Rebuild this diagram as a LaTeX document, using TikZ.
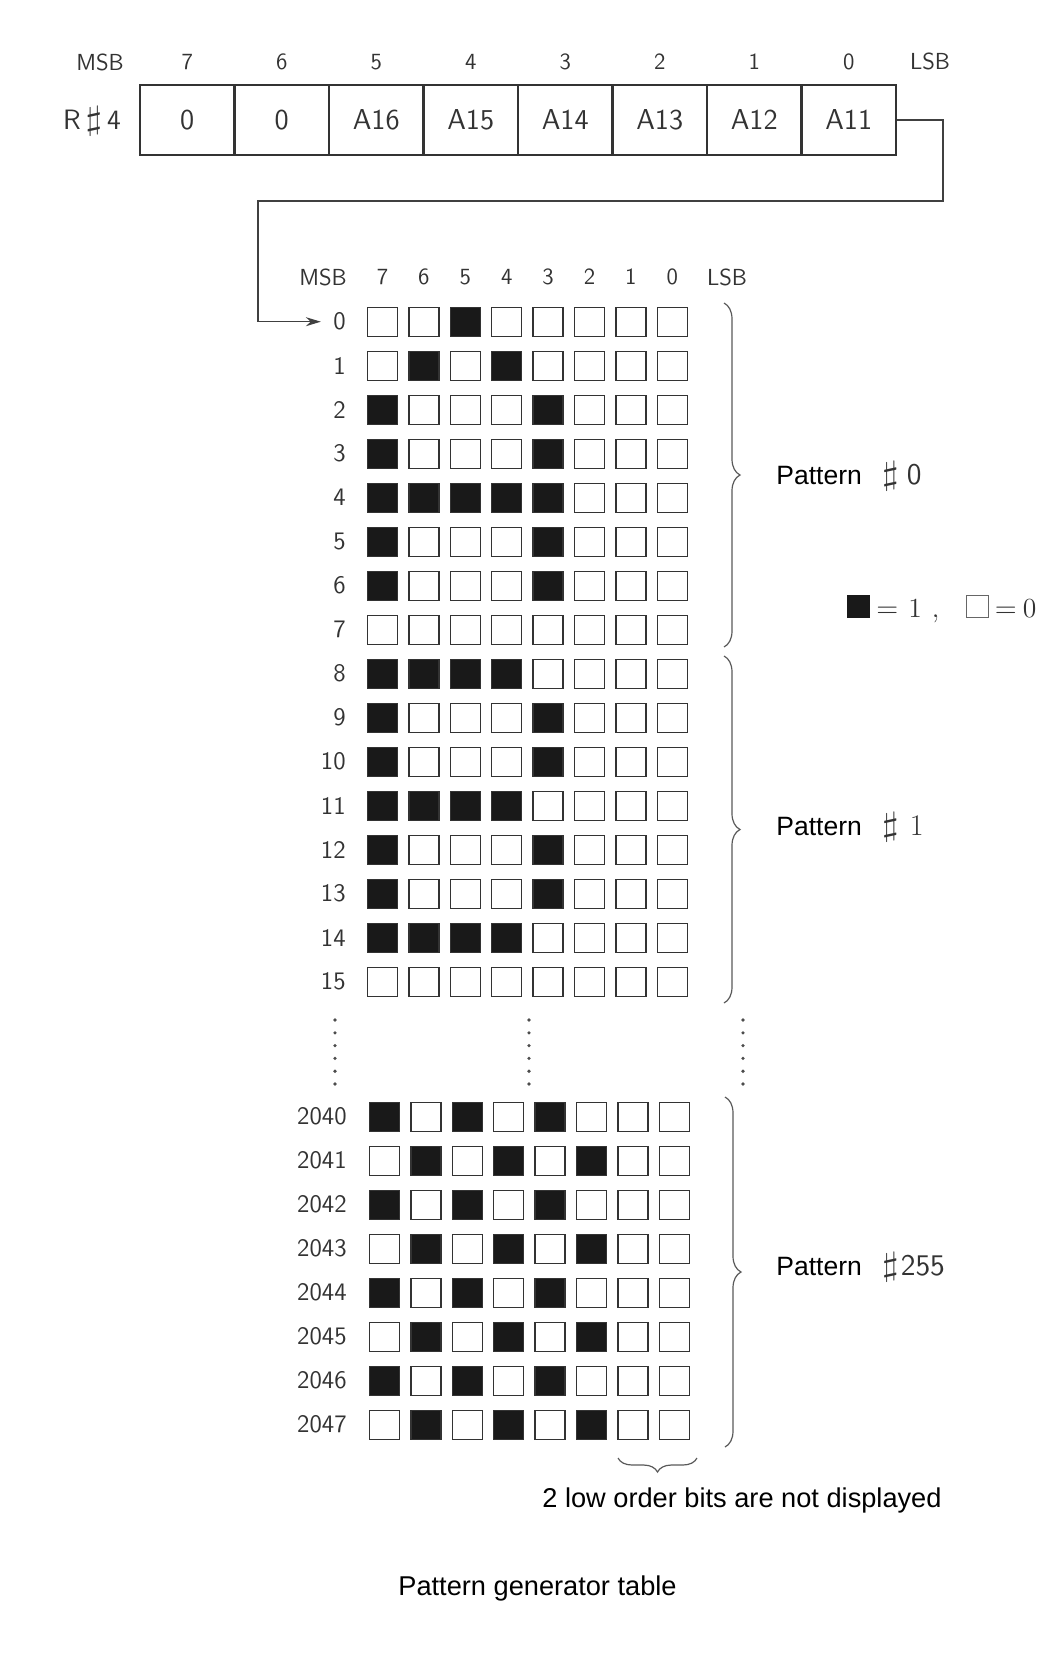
\documentclass[tikz,border=0pt]{standalone}
\usepackage{fontspec}
\newfontfamily\arialfont{Liberation Sans}
\usepackage{tikz}
\usetikzlibrary{arrows.meta,decorations.pathreplacing,positioning}
\newcommand{\shp}{\scalebox{1.55}[1.15]{$\sharp$}}

\tikzset{
  bit0/.style = {draw = black!80, line width = 0.65pt, fill = white, minimum width = 15pt, minimum height = 14.5pt, inner sep = 0pt},
  bit1/.style = {bit0, fill = black!90},
  key0/.style = {draw = black!60, line width = 0.5pt, fill = white, minimum width = 11pt, minimum height = 11pt, inner sep = 0pt},
  key1/.style = {key0, draw = black!90, fill = black!90},
  regcell/.style = {draw = black!80, line width = 1.3pt, minimum width = 47.25pt, minimum height = 35pt, inner sep = 0pt, text = black!80, font = \sffamily\fontsize{14.4}{16}\selectfont},
  reglab/.style = {inner sep = 0pt, text = black!80, font = \sffamily\fontsize{11.6}{13}\selectfont},
  rowlab/.style = {inner sep = 0pt, anchor = east, text = black!80, font = \sffamily\fontsize{12.6}{14}\selectfont},
  keytxt/.style = {inner sep = 0pt, text = black!80, font = \fontsize{13.8}{16}\selectfont},
  arial/.style = {inner sep = 0pt, font = \arialfont\fontsize{13.25}{15}\selectfont},
  note/.style = {arial, font = \arialfont\fontsize{13.6}{15}\selectfont},
  conn/.style = {draw = black!75, line width = 0.65pt},
  pbrace/.style = {decorate, decoration = {brace, amplitude = 8pt}, draw = black!65, line width = 0.6pt}
}

\begin{document}
\begin{tikzpicture}[x = 0.5pt, y = -0.5pt]
	\useasboundingbox (0,0) rectangle (1059,1654);

	\node[reglab] (rmsb) at (100,62) {MSB};
	\node[reglab] (rlsb) at (930,61) {LSB};
	\node[regcell, draw = none, font = \sffamily\fontsize{14}{16}\selectfont] (rname) at (92,121) {R\,\shp\,4};
	\foreach \n/\lab [count = \i from 0] in {7/0, 6/0, 5/A16, 4/A15, 3/A14, 2/A13, 1/A12, 0/A11}
	{
		\node[regcell] (r\n) at ({187.25+94.5*\i},120) {\lab};
		\node[reglab] (rh\n) at ({187.25+94.5*\i},62) {\n};
	}

	\node[reglab] (gmsb) at (323,277) {MSB};
	\node[reglab] (glsb) at (727,277) {LSB};
	\foreach \n [count = \i from 0] in {7,6,5,4,3,2,1,0}
		\node[reglab] (gh\n) at ({382.5+41.4*\i},277) {\n};

	\foreach \lab/\bits [count = \k from 0] in {0/{0,0,1,0,0,0,0,0}, 1/{0,1,0,1,0,0,0,0},
		2/{1,0,0,0,1,0,0,0}, 3/{1,0,0,0,1,0,0,0}, 4/{1,1,1,1,1,0,0,0}, 5/{1,0,0,0,1,0,0,0},
		6/{1,0,0,0,1,0,0,0}, 7/{0,0,0,0,0,0,0,0}, 8/{1,1,1,1,0,0,0,0}, 9/{1,0,0,0,1,0,0,0},
		10/{1,0,0,0,1,0,0,0}, 11/{1,1,1,1,0,0,0,0}, 12/{1,0,0,0,1,0,0,0}, 13/{1,0,0,0,1,0,0,0},
		14/{1,1,1,1,0,0,0,0}, 15/{0,0,0,0,0,0,0,0}}
	{
		\node[rowlab] (l\lab) at (346,{321.7+44*\k}) {\lab};
		\foreach \b [count = \j from 0] in \bits
			\node[bit\b] (c\lab-\j) at ({382.5+41.4*\j},{321.7+44*\k}) {};
	}

	\foreach \lab/\bits [count = \k from 0] in {2040/{1,0,1,0,1,0,0,0}, 2041/{0,1,0,1,0,1,0,0},
		2042/{1,0,1,0,1,0,0,0}, 2043/{0,1,0,1,0,1,0,0}, 2044/{1,0,1,0,1,0,0,0},
		2045/{0,1,0,1,0,1,0,0}, 2046/{1,0,1,0,1,0,0,0}, 2047/{0,1,0,1,0,1,0,0}}
	{
		\node[rowlab] (l\lab) at (347,{1116.7+44*\k}) {\lab};
		\foreach \b [count = \j from 0] in \bits
			\node[bit\b] (c\lab-\j) at ({384.5+41.4*\j},{1116.7+44*\k}) {};
	}

	\foreach \dx in {335,529,743}
		\foreach \i in {0,...,5}
			\fill[black!70] (\dx,{1020+12.8*\i}) circle (0.9pt);

	\coordinate (turnA) at (943,201);
	\coordinate (turnB) at (258,201);
	\draw[conn, -{Stealth[length = 7.5pt, width = 4.5pt]}, shorten > = 6pt] (r0.east) -| (turnA) -- (turnB) |- (l0.west);

	\draw[pbrace] (724,303) -- (724,647);
	\draw[pbrace] (724,656) -- (724,1003);
	\draw[pbrace] (725,1097) -- (725,1447);
	\draw[pbrace, decoration = {amplitude = 7pt}] (697,1458) -- (618,1458);

	\node[arial, anchor = base west] (p0) at (776,484) {Pattern\hspace{10pt}{\sffamily\fontsize{15}{17}\selectfont\color{black!80}\shp\hspace{4pt}0}};
	\node[arial, anchor = base west] (p1) at (776,835) {Pattern\hspace{10pt}{\rmfamily\fontsize{15}{17}\selectfont\color{black!80}\shp\hspace{5.5pt}1}};
	\node[arial, anchor = base west] (p255) at (776,1275) {Pattern\hspace{10pt}{\sffamily\fontsize{15}{17}\selectfont\color{black!80}\shp\hspace{1pt}255}};

	\node[key1] (k1) at (858.5,606) {};
	\node[keytxt, anchor = base west] (k1t) at ([xshift = 3pt]k1.south east) {$=$\hspace{5pt}1\hspace{5pt},};
	\node[key0] (k0) at (977,606) {};
	\node[keytxt, anchor = base west] (k0t) at ([xshift = 3pt]k0.south east) {$=$\hspace{3pt}0};

	\node[note, anchor = base west] (lowbits) at (542,1507) {2 low order bits are not displayed};
	\node[note, anchor = base west] (title) at (398,1595) {Pattern generator table};
\end{tikzpicture}
\end{document}
